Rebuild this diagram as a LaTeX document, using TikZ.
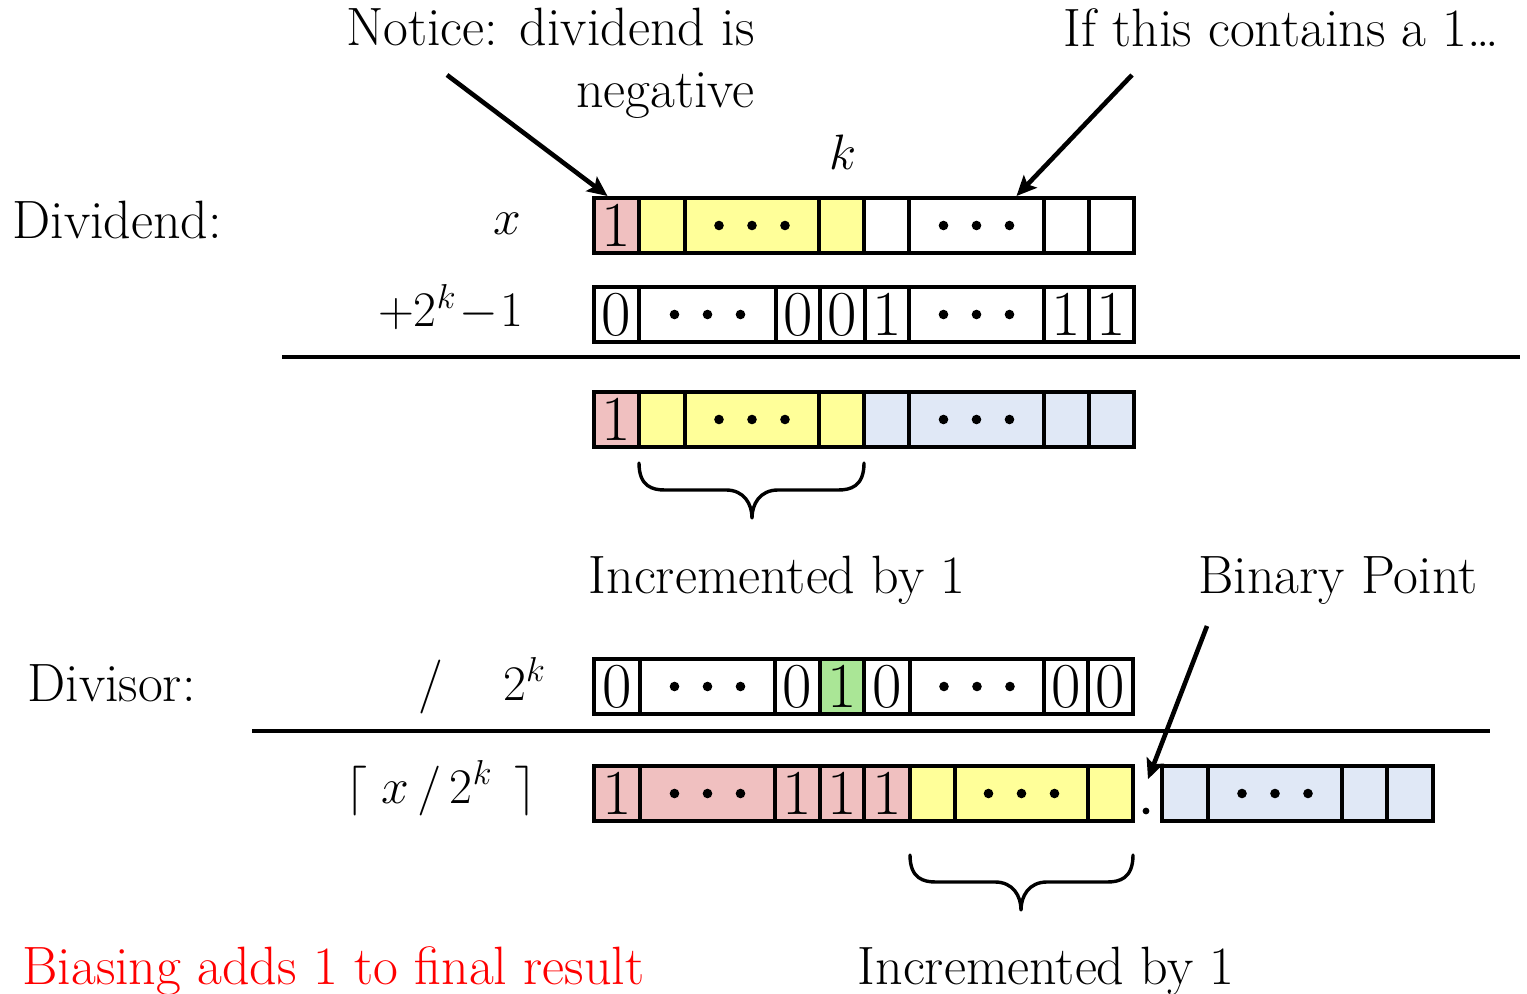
\documentclass[tikz,border=0pt]{standalone}
\usetikzlibrary{arrows.meta}
\definecolor{cpink}{RGB}{240,192,192}
\definecolor{cyel}{RGB}{255,255,153}
\definecolor{cblue}{RGB}{224,232,246}
\definecolor{cgreen}{RGB}{170,230,150}
\definecolor{cred}{RGB}{255,0,0}
\tikzset{
  cellbox/.style={draw,line width=2pt,minimum height=27.5pt,inner sep=0pt,outer sep=0pt,
    font=\fontsize{32}{32}\selectfont},
  lbl/.style={inner sep=0pt,font=\fontsize{27}{30}\selectfont},
  rulel/.style={line width=2.2pt},
  pointer/.style={line width=2.3pt,-{Stealth[length=10pt,width=9pt,inset=2pt]}},
  bracel/.style={line width=1.7pt,line cap=round,line join=round},
}
\newcommand\bcell[6]{\node[cellbox,fill=#5,minimum width={(#3-#2)*0.5pt},anchor=north west] (#1) at (#2,#4) {#6};}
\newcommand\tridots[1]{\foreach \dx in {-16.5pt,0pt,16.5pt}{\fill ([xshift=\dx]#1.center) circle (4.8);}}
\begin{document}
\begin{tikzpicture}[x=0.5pt,y=-0.5pt]
\useasboundingbox (0,0) rectangle (1527,994);
% Row 1: x
\bcell{a1}{594}{639}{198}{cpink}{1}
\bcell{a2}{639}{685}{198}{cyel}{}
\bcell{a3}{685}{819}{198}{cyel}{}
\bcell{a4}{819}{864}{198}{cyel}{}
\bcell{a5}{864}{909}{198}{white}{}
\bcell{a6}{909}{1044}{198}{white}{}
\bcell{a7}{1044}{1089}{198}{white}{}
\bcell{a8}{1089}{1134}{198}{white}{}
\tridots{a3}\tridots{a6}
% Row 2: +2^k-1
\bcell{b1}{594}{639}{287}{white}{0}
\bcell{b2}{639}{776}{287}{white}{}
\bcell{b3}{776}{820}{287}{white}{0}
\bcell{b4}{820}{865}{287}{white}{0}
\bcell{b5}{865}{909}{287}{white}{1}
\bcell{b6}{909}{1044}{287}{white}{}
\bcell{b7}{1044}{1089}{287}{white}{1}
\bcell{b8}{1089}{1134}{287}{white}{1}
\tridots{b2}\tridots{b6}
% Row 3: sum
\bcell{c1}{594}{639}{392}{cpink}{1}
\bcell{c2}{639}{685}{392}{cyel}{}
\bcell{c3}{685}{819}{392}{cyel}{}
\bcell{c4}{819}{864}{392}{cyel}{}
\bcell{c5}{864}{909}{392}{cblue}{}
\bcell{c6}{909}{1044}{392}{cblue}{}
\bcell{c7}{1044}{1089}{392}{cblue}{}
\bcell{c8}{1089}{1134}{392}{cblue}{}
\tridots{c3}\tridots{c6}
% Row 4: divisor
\bcell{d1}{594}{640}{659}{white}{0}
\bcell{d2}{640}{775}{659}{white}{}
\bcell{d3}{775}{820}{659}{white}{0}
\bcell{d4}{820}{864}{659}{cgreen}{1}
\bcell{d5}{864}{910}{659}{white}{0}
\bcell{d6}{910}{1044}{659}{white}{}
\bcell{d7}{1044}{1088}{659}{white}{0}
\bcell{d8}{1088}{1133}{659}{white}{0}
\tridots{d2}\tridots{d6}
% Row 5: result
\bcell{e1}{594}{640}{766}{cpink}{1}
\bcell{e2}{640}{775}{766}{cpink}{}
\bcell{e3}{775}{820}{766}{cpink}{1}
\bcell{e4}{820}{864}{766}{cpink}{1}
\bcell{e5}{864}{910}{766}{cpink}{1}
\bcell{e6}{910}{955}{766}{cyel}{}
\bcell{e7}{955}{1088}{766}{cyel}{}
\bcell{e8}{1088}{1133}{766}{cyel}{}
\bcell{f1}{1162}{1208}{766}{cblue}{}
\bcell{f2}{1208}{1342}{766}{cblue}{}
\bcell{f3}{1342}{1387}{766}{cblue}{}
\bcell{f4}{1387}{1433}{766}{cblue}{}
\tridots{e2}\tridots{e7}\tridots{f2}
% binary point
\node[circle,fill,inner sep=0pt,minimum size=3.4pt] (bp) at (1146,811) {};
% rules
\coordinate (r1l) at (282,357); \coordinate (r1r) at (1520,357);
\draw[rulel] (r1l) -- (r1r);
\coordinate (r2l) at (252,731); \coordinate (r2r) at (1490,731);
\draw[rulel] (r2l) -- (r2r);
% labels
\node[lbl,align=right,anchor=north east] (notice) at (755,8) {Notice: dividend is\\[1pt]negative};
\node[lbl,anchor=base west] (ifthis) at (1063,47) {If this contains a 1\dots};
\node[lbl,anchor=center] (klbl) at (843,152) {$k$};
\node[lbl,anchor=base west] (dividend) at (12,239) {Dividend:};
\node[lbl,anchor=center] (xlbl) at (507,224) {$x$};
\node[lbl,anchor=base east] (plus) at (524,327) {$+2^k\!-\!1$};
\node[lbl,anchor=base west] (divisor) at (27,701) {Divisor:};
\node[lbl,anchor=base west] (divk) at (418,700) {/\hspace{30pt}$2^k$};
\node[lbl,anchor=base west] (ceil) at (345,803) {$\bigl\lceil\;x\,/\,2^k\;\,\bigr\rceil$};
\node[lbl,anchor=base west] (binpt) at (1198,594) {Binary Point};
\node[lbl,anchor=base] (inc1) at (777,594) {Incremented by 1};
\node[lbl,anchor=base] (inc2) at (1046,984) {Incremented by 1};
\node[lbl,anchor=base west,text=cred] (bias) at (22,984) {Biasing adds 1 to final result};
% arrows
\coordinate (s1) at (447,75);
\coordinate (s2) at (1132,75);
\coordinate (s3) at (1207,626);
\draw[pointer] (s1) -- ([xshift=-4.5pt,yshift=1pt]a1.north);
\draw[pointer] (s2) -- ([xshift=20pt,yshift=1pt]a6.north);
\draw[pointer] (s3) -- ([xshift=1pt,yshift=14pt]bp.north);
% braces
\draw[bracel] (c2.south west) ++(0,16) .. controls +(0,24) and +(-12,0) .. ++(26,27) -- (726,490)
  .. controls +(18,0) and +(0,-14) .. (752,518)
  .. controls +(0,-14) and +(-18,0) .. (778,490) -- (838,490)
  .. controls +(12,0) and +(0,24) .. ([yshift=-8pt]c4.south east);
\draw[bracel] (e6.south west) ++(0,34) .. controls +(0,24) and +(-12,0) .. ++(26,27) -- (995,882)
  .. controls +(18,0) and +(0,-14) .. (1021,910)
  .. controls +(0,-14) and +(-18,0) .. (1047,882) -- (1107,882)
  .. controls +(12,0) and +(0,24) .. ([yshift=-17pt]e8.south east);
\end{tikzpicture}
\end{document}
